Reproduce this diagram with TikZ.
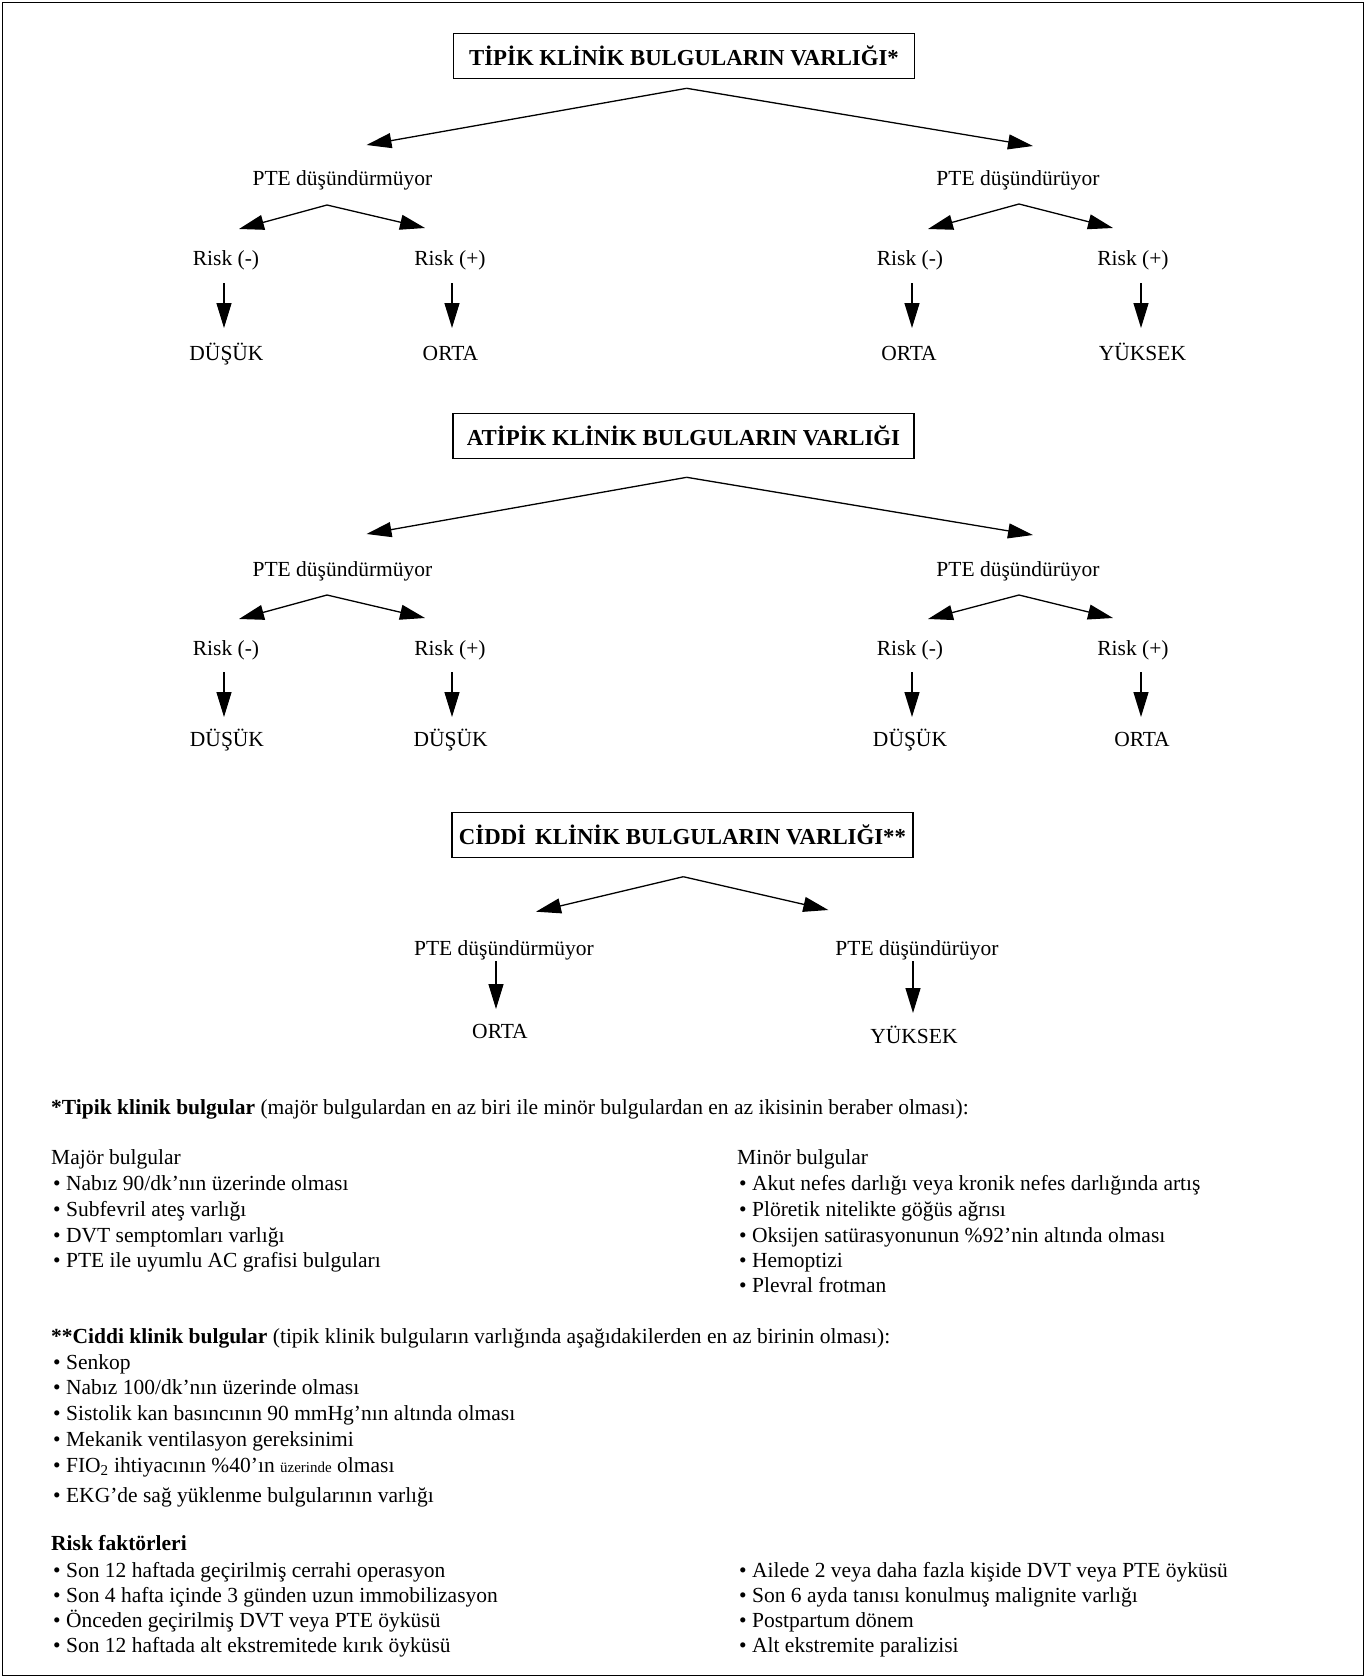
\documentclass[tikz,border=0pt]{standalone}
\usepackage{fontspec}
\setmainfont{Liberation Serif}
\usepackage{tikz}
\usetikzlibrary{arrows.meta,positioning}

\newcommand{\bodyfont}{\fontsize{21.5}{25.7}\selectfont}
\newcommand{\boxfont}{\fontsize{22.8}{26}\selectfont\bfseries}

\begin{document}
\begin{tikzpicture}[
    x=1pt, y=-1pt,
    every node/.style={inner sep=0pt, font=\bodyfont},
    headbox/.style={rectangle, draw, line width=1.3pt, minimum width=461pt, minimum height=45pt, font=\boxfont},
    lbl/.style={anchor=base},
    note/.style={anchor=base west},
    arr/.style={-{Triangle[length=25pt,width=15pt]}, line width=1.3pt},
]
\useasboundingbox (0,0) rectangle (1366,1678);
\draw[line width=1.3pt] (2.5,2.5) rectangle (1363.5,1675.5);

% Typical findings
\node[headbox] (box1) at (684,56) {TİPİK KLİNİK BULGULARIN VARLIĞI*};
\coordinate (top1) at (686.7,88.3);
\node[lbl] (no1) at (342.5,185) {PTE düşündürmüyor};
\node[lbl] (yes1) at (1018,185) {PTE düşündürüyor};
\draw[arr] (top1) -- ([xshift=24pt,yshift=40pt]no1.base);
\draw[arr] (top1) -- ([xshift=15pt,yshift=39pt]yes1.base);

\coordinate (no1top) at ([xshift=-15.5pt,yshift=-20pt]no1.base);
\node[lbl] (no1neg) at (226,265) {Risk (-)};
\node[lbl] (no1pos) at (450,265) {Risk (+)};
\draw[arr] (no1top) -- ([xshift=13pt,yshift=36pt]no1neg.base);
\draw[arr] (no1top) -- ([xshift=-25pt,yshift=37pt]no1pos.base);

\coordinate (yes1top) at ([xshift=1pt,yshift=-19pt]yes1.base);
\node[lbl] (yes1neg) at (910,265) {Risk (-)};
\node[lbl] (yes1pos) at (1133,265) {Risk (+)};
\draw[arr] (yes1top) -- ([xshift=18pt,yshift=36pt]yes1neg.base);
\draw[arr] (yes1top) -- ([xshift=-20pt,yshift=37pt]yes1pos.base);

\node[lbl] (out1a) at (226.5,360) {DÜŞÜK};
\node[lbl] (out1b) at (450.5,360) {ORTA};
\node[lbl] (out1c) at (909,360) {ORTA};
\node[lbl] (out1d) at (1142.5,360) {YÜKSEK};
\draw[arr] ([xshift=-2pt,yshift=-18pt]no1neg.base) -- ([xshift=-2.5pt,yshift=32pt]out1a.base);
\draw[arr] ([xshift=2pt,yshift=-18pt]no1pos.base) -- ([xshift=1.5pt,yshift=32pt]out1b.base);
\draw[arr] ([xshift=2pt,yshift=-18pt]yes1neg.base) -- ([xshift=3pt,yshift=32pt]out1c.base);
\draw[arr] ([xshift=8pt,yshift=-18pt]yes1pos.base) -- ([xshift=-1.5pt,yshift=32pt]out1d.base);

% Atypical findings
\node[headbox] (box2) at (683.5,436) {ATİPİK KLİNİK BULGULARIN VARLIĞI};
\coordinate (top2) at (686.7,477.3);
\node[lbl] (no2) at (342.5,576) {PTE düşündürmüyor};
\node[lbl] (yes2) at (1018,576) {PTE düşündürüyor};
\draw[arr] (top2) -- ([xshift=24pt,yshift=42pt]no2.base);
\draw[arr] (top2) -- ([xshift=15pt,yshift=41pt]yes2.base);

\coordinate (no2top) at ([xshift=-15.5pt,yshift=-19pt]no2.base);
\node[lbl] (no2neg) at (226,655) {Risk (-)};
\node[lbl] (no2pos) at (450,655) {Risk (+)};
\draw[arr] (no2top) -- ([xshift=13pt,yshift=36pt]no2neg.base);
\draw[arr] (no2top) -- ([xshift=-25pt,yshift=37pt]no2pos.base);

\coordinate (yes2top) at ([xshift=1pt,yshift=-19pt]yes2.base);
\node[lbl] (yes2neg) at (910,655) {Risk (-)};
\node[lbl] (yes2pos) at (1133,655) {Risk (+)};
\draw[arr] (yes2top) -- ([xshift=18pt,yshift=36pt]yes2neg.base);
\draw[arr] (yes2top) -- ([xshift=-20pt,yshift=37pt]yes2pos.base);

\node[lbl] (out2a) at (227,746) {DÜŞÜK};
\node[lbl] (out2b) at (450.7,746) {DÜŞÜK};
\node[lbl] (out2c) at (910,746) {DÜŞÜK};
\node[lbl] (out2d) at (1142,746) {ORTA};
\draw[arr] ([xshift=-2pt,yshift=-17pt]no2neg.base) -- ([xshift=-3pt,yshift=29pt]out2a.base);
\draw[arr] ([xshift=2pt,yshift=-17pt]no2pos.base) -- ([xshift=1.3pt,yshift=29pt]out2b.base);
\draw[arr] ([xshift=2pt,yshift=-17pt]yes2neg.base) -- ([xshift=2pt,yshift=29pt]out2c.base);
\draw[arr] ([xshift=8pt,yshift=-17pt]yes2pos.base) -- ([xshift=-1pt,yshift=29pt]out2d.base);

% Serious findings
\node[headbox] (box3) at (682.5,835) {CİDDİ\hspace{0.4em}KLİNİK BULGULARIN VARLIĞI**};
\coordinate (top3) at (683.3,876.7);
\node[lbl] (no3) at (504,955) {PTE düşündürmüyor};
\node[lbl] (yes3) at (917,955) {PTE düşündürüyor};
\draw[arr] (top3) -- ([xshift=32pt,yshift=43.3pt]no3.base);
\draw[arr] (top3) -- ([xshift=-88.7pt,yshift=45pt]yes3.base);

\node[lbl] (out3a) at (500,1038) {ORTA};
\node[lbl] (out3b) at (914,1043) {YÜKSEK};
\draw[arr] ([xshift=-8pt,yshift=-6pt]no3.base) -- ([xshift=-4pt,yshift=29pt]out3a.base);
\draw[arr] ([xshift=-4pt,yshift=-6pt]yes3.base) -- ([xshift=-1pt,yshift=30pt]out3b.base);

% Notes
\node[note] (tipik) at (51,1114) {\textbf{*Tipik klinik bulgular} (majör bulgulardan en az biri ile minör bulgulardan en az ikisinin beraber olması):};
\node[note] (major) at (51,1164) {Majör bulgular};
\node[note] (maj1) at (53,1190) {\textbullet\ Nabız 90/dk’nın üzerinde olması};
\node[note] (maj2) at (53,1216) {\textbullet\ Subfevril ateş varlığı};
\node[note] (maj3) at (53,1242) {\textbullet\ DVT semptomları varlığı};
\node[note] (maj4) at (53,1267) {\textbullet\ PTE ile uyumlu AC grafisi bulguları};

\node[note] (minor) at (737,1164) {Minör bulgular};
\node[note] (min1) at (739,1190) {\textbullet\ Akut nefes darlığı veya kronik nefes darlığında artış};
\node[note] (min2) at (739,1216) {\textbullet\ Plöretik nitelikte göğüs ağrısı};
\node[note] (min3) at (739,1242) {\textbullet\ Oksijen satürasyonunun \%92’nin altında olması};
\node[note] (min4) at (739,1267) {\textbullet\ Hemoptizi};
\node[note] (min5) at (739,1292) {\textbullet\ Plevral frotman};

\node[note] (ciddi) at (51,1343) {\textbf{**Ciddi klinik bulgular} (tipik klinik bulguların varlığında aşağıdakilerden en az birinin olması):};
\node[note] (cid1) at (53,1369) {\textbullet\ Senkop};
\node[note] (cid2) at (53,1394) {\textbullet\ Nabız 100/dk’nın üzerinde olması};
\node[note] (cid3) at (53,1420) {\textbullet\ Sistolik kan basıncının 90 mmHg’nın altında olması};
\node[note] (cid4) at (53,1446) {\textbullet\ Mekanik ventilasyon gereksinimi};
\node[note] (cid5) at (53,1472) {\textbullet\ FIO\textsubscript{2} ihtiyacının \%40’ın {\fontsize{15}{18}\selectfont üzerinde} olması};
\node[note] (cid6) at (53,1502) {\textbullet\ EKG’de sağ yüklenme bulgularının varlığı};

\node[note] (risk) at (51,1550) {\textbf{Risk faktörleri}};
\node[note] (rf1) at (53,1577) {\textbullet\ Son 12 haftada geçirilmiş cerrahi operasyon};
\node[note] (rf2) at (53,1602) {\textbullet\ Son 4 hafta içinde 3 günden uzun immobilizasyon};
\node[note] (rf3) at (53,1627) {\textbullet\ Önceden geçirilmiş DVT veya PTE öyküsü};
\node[note] (rf4) at (53,1652) {\textbullet\ Son 12 haftada alt ekstremitede kırık öyküsü};
\node[note] (rf5) at (739,1577) {\textbullet\ Ailede 2 veya daha fazla kişide DVT veya PTE öyküsü};
\node[note] (rf6) at (739,1602) {\textbullet\ Son 6 ayda tanısı konulmuş malignite varlığı};
\node[note] (rf7) at (739,1627) {\textbullet\ Postpartum dönem};
\node[note] (rf8) at (739,1652) {\textbullet\ Alt ekstremite paralizisi};

\end{tikzpicture}
\end{document}
